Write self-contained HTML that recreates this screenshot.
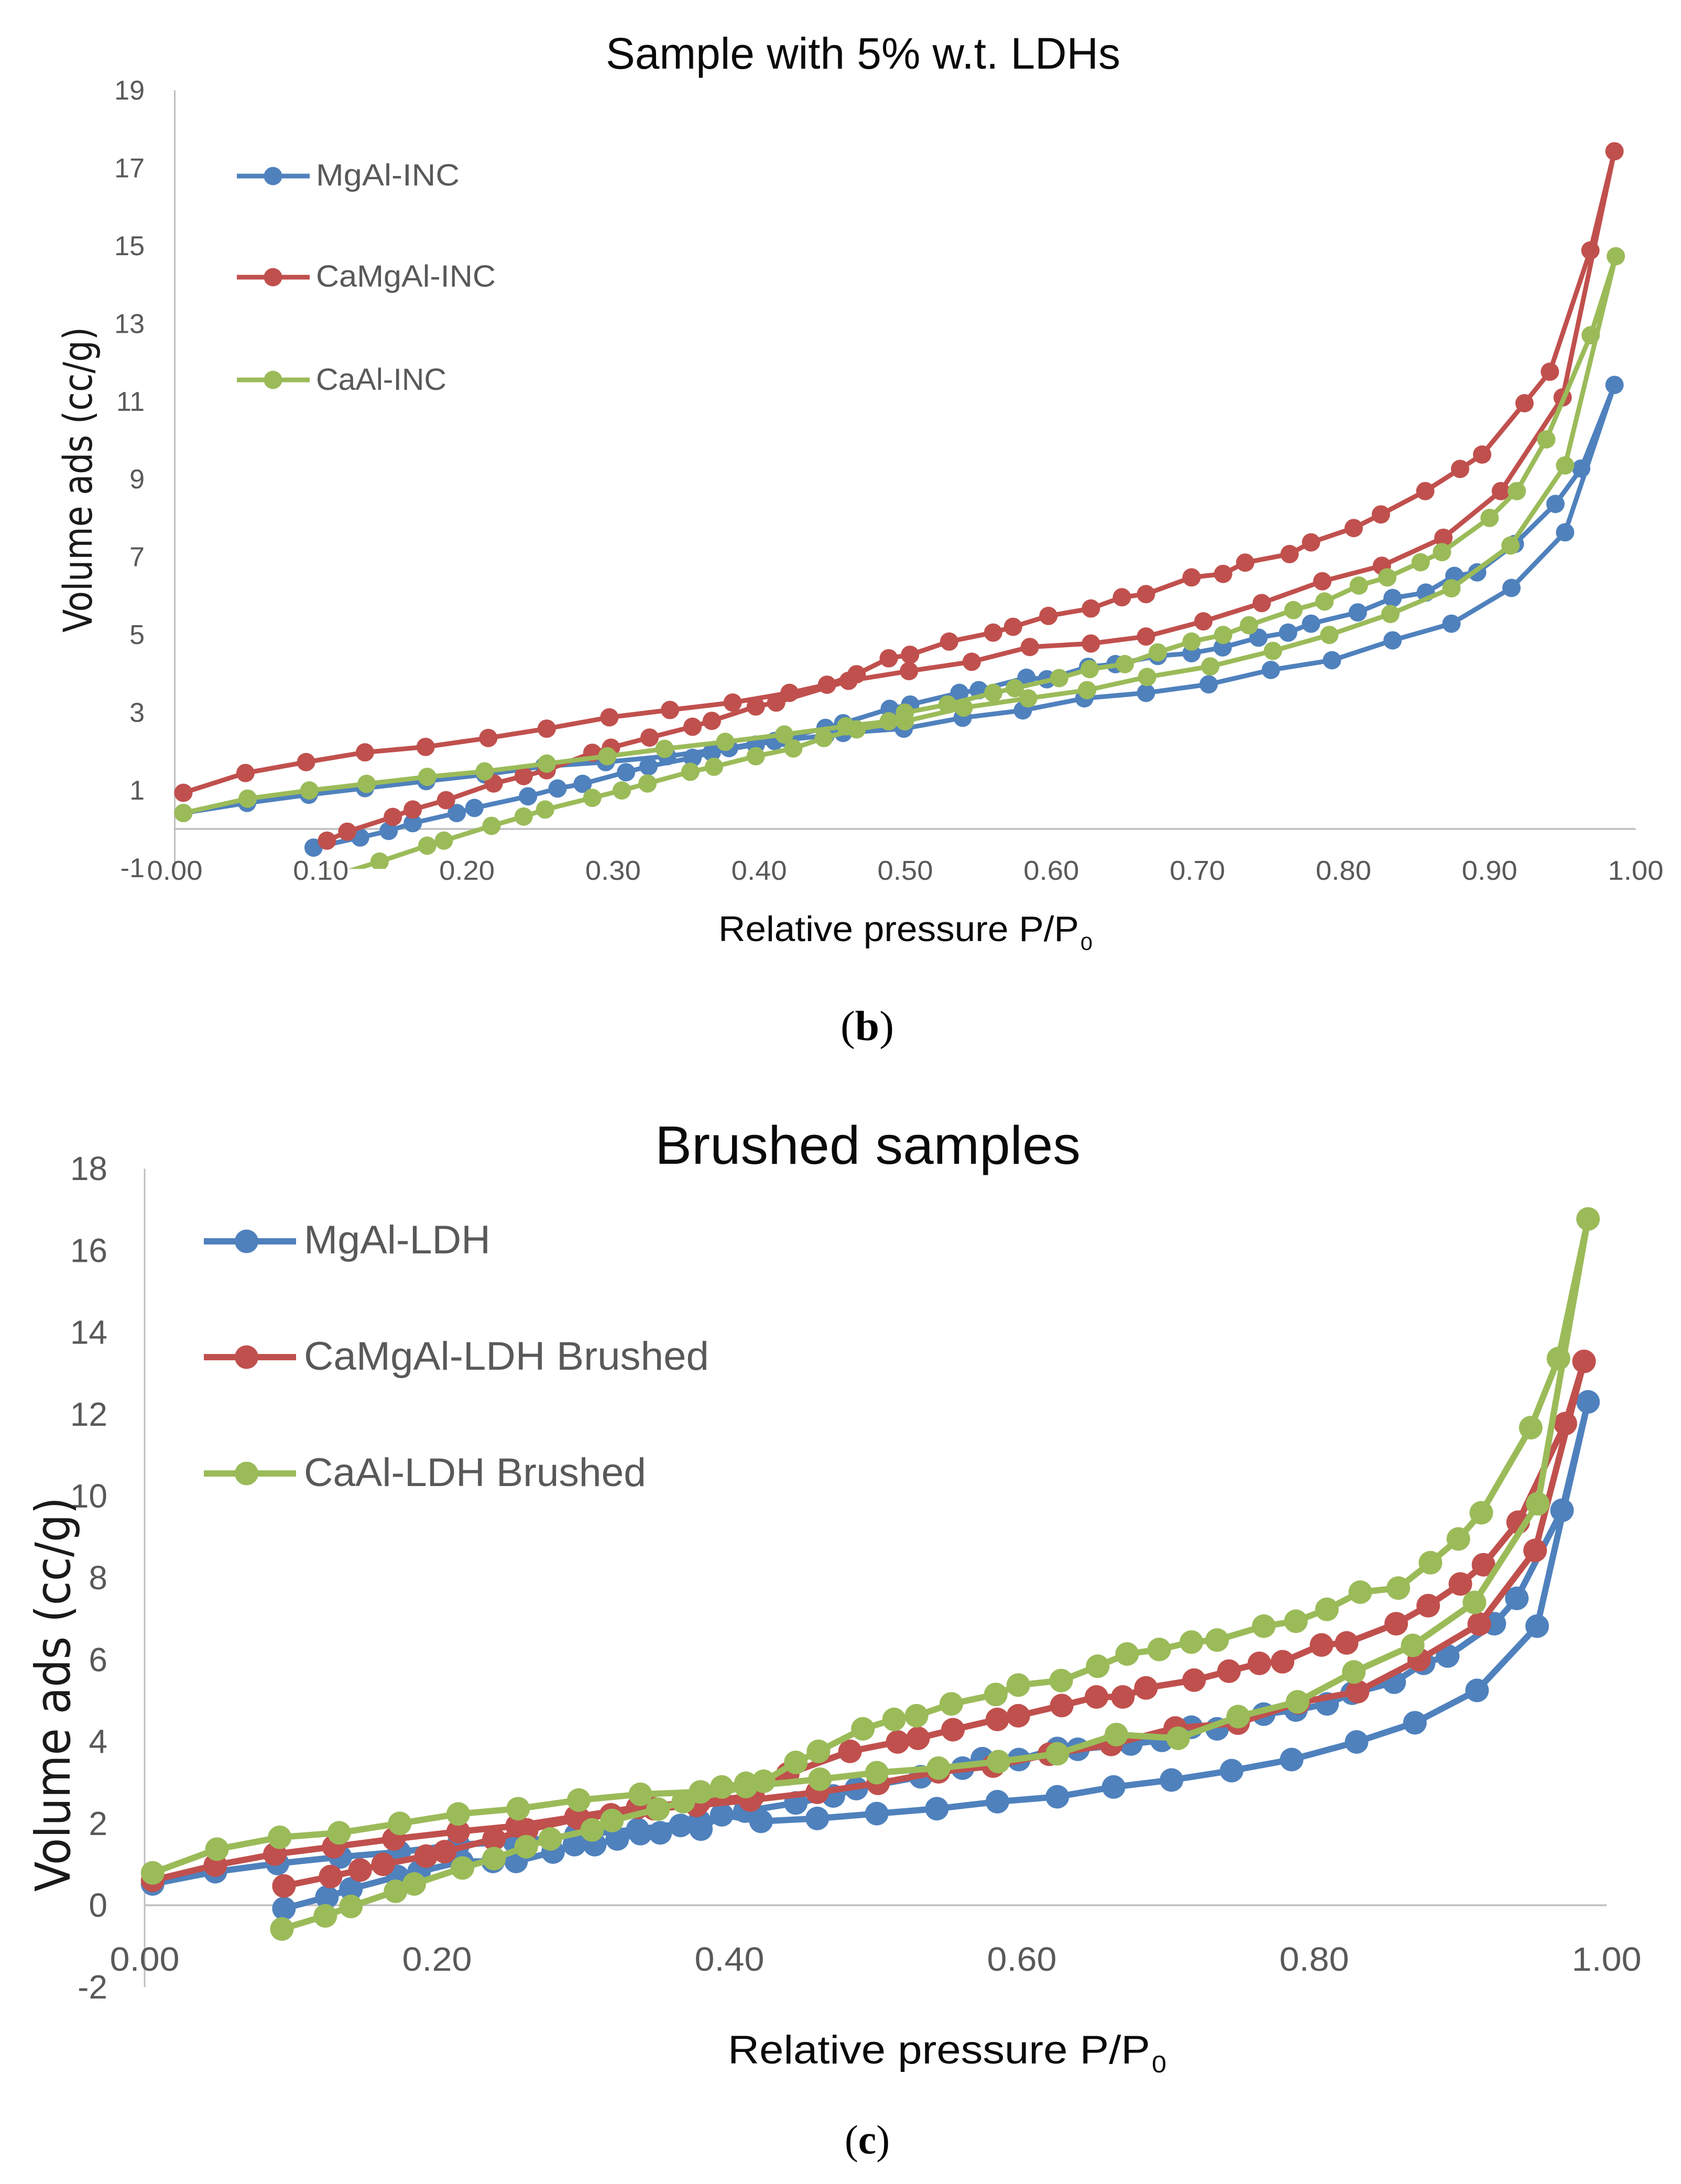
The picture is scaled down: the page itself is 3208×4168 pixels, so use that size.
<!DOCTYPE html>
<html lang="en">
<head>
<meta charset="utf-8">
<title>Adsorption isotherms</title>
<style>
html,body{margin:0;padding:0;background:#fff;}
svg{display:block;}
text{font-family:"Liberation Sans",sans-serif;}
.tick{fill:#595959;}
.leg{fill:#595959;}
.ttl{fill:#0a0a0a;}
.ylab{font-family:"DejaVu Sans",sans-serif;fill:#1a1a1a;}
.cap{font-family:"Liberation Serif",serif;fill:#000;}
</style>
</head>
<body>
<svg id="figure" xmlns="http://www.w3.org/2000/svg" width="3208" height="4168" viewBox="0 0 3208 4168">
  <rect x="0" y="0" width="3208" height="4168" fill="#fff"/>

  <!-- Chart b static text -->
  <text class="ttl" x="1156" y="131" font-size="84" textLength="982" lengthAdjust="spacingAndGlyphs">Sample with 5% w.t. LDHs</text>
  <text class="ylab" transform="translate(175,1207) rotate(-90)" x="0" y="0" font-size="76" textLength="583" lengthAdjust="spacingAndGlyphs">Volume ads (cc/g)</text>
  <text class="ttl" x="1371" y="1796" font-size="68" textLength="688" lengthAdjust="spacingAndGlyphs">Relative pressure P/P</text>
  <text class="ttl" x="2062" y="1813" font-size="36" textLength="23" lengthAdjust="spacingAndGlyphs">0</text>
  <g id="chartB"></g>
  <g>
    <g>
      <line x1="452" y1="336" x2="591" y2="336" stroke="#4F81BD" stroke-width="9"/>
      <circle cx="521" cy="336" r="17.5" fill="#4F81BD"/>
      <text class="leg" x="603" y="354" font-size="58" textLength="274" lengthAdjust="spacingAndGlyphs">MgAl-INC</text>
    </g>
    <g>
      <line x1="452" y1="529" x2="591" y2="529" stroke="#C0504D" stroke-width="9"/>
      <circle cx="521" cy="529" r="17.5" fill="#C0504D"/>
      <text class="leg" x="603" y="547" font-size="58" textLength="343" lengthAdjust="spacingAndGlyphs">CaMgAl-INC</text>
    </g>
    <g>
      <line x1="452" y1="725" x2="591" y2="725" stroke="#9BBB59" stroke-width="9"/>
      <circle cx="521" cy="725" r="17.5" fill="#9BBB59"/>
      <text class="leg" x="603" y="744" font-size="58" textLength="249" lengthAdjust="spacingAndGlyphs">CaAl-INC</text>
    </g>
  </g>
  <text class="cap" x="1604" y="1985" font-size="80" textLength="102" lengthAdjust="spacingAndGlyphs">(<tspan font-weight="bold">b</tspan>)</text>

  <!-- Chart c static text -->
  <text class="ttl" x="1250" y="2221" font-size="103" textLength="812" lengthAdjust="spacingAndGlyphs">Brushed samples</text>
  <text class="ttl" x="1389" y="3938" font-size="76" textLength="806" lengthAdjust="spacingAndGlyphs">Relative pressure P/P</text>
  <text class="ttl" x="2198" y="3955" font-size="46" textLength="28" lengthAdjust="spacingAndGlyphs">0</text>
  <g id="chartC"></g>
  <text class="ylab" transform="translate(133,3610) rotate(-90)" x="0" y="0" font-size="92" textLength="753" lengthAdjust="spacingAndGlyphs">Volume ads (cc/g)</text>
  <g>
    <g>
      <line x1="389" y1="2369" x2="565" y2="2369" stroke="#4F81BD" stroke-width="12"/>
      <circle cx="470.5" cy="2369" r="22.5" fill="#4F81BD"/>
      <text class="leg" x="580" y="2392" font-size="76" textLength="356" lengthAdjust="spacingAndGlyphs">MgAl-LDH</text>
    </g>
    <g>
      <line x1="389" y1="2590" x2="565" y2="2590" stroke="#C0504D" stroke-width="12"/>
      <circle cx="470.5" cy="2590" r="22.5" fill="#C0504D"/>
      <text class="leg" x="580" y="2614" font-size="76" textLength="773" lengthAdjust="spacingAndGlyphs">CaMgAl-LDH Brushed</text>
    </g>
    <g>
      <line x1="389" y1="2812" x2="565" y2="2812" stroke="#9BBB59" stroke-width="12"/>
      <circle cx="470.5" cy="2812" r="22.5" fill="#9BBB59"/>
      <text class="leg" x="580" y="2836" font-size="76" textLength="653" lengthAdjust="spacingAndGlyphs">CaAl-LDH Brushed</text>
    </g>
  </g>
  <text class="cap" x="1612" y="4110" font-size="78" textLength="86" lengthAdjust="spacingAndGlyphs">(<tspan font-weight="bold">c</tspan>)</text>
</svg>

<script>
// ---------- Chart (b) tick labels ----------
const bXTicks = [0, 0.1, 0.2, 0.3, 0.4, 0.5, 0.6, 0.7, 0.8, 0.9, 1];
const bYTicks = [-1, 1, 3, 5, 7, 9, 11, 13, 15, 17, 19];

// ---------- Chart (b) series values ----------
const bMgAlP = [.0059,.0495,.0917,.1302,.1721,.2124,.2528,.295,.337,.3794,.4179,.4454,.4575,.4894,.5034,.5371,.5504,.583,.597,.6252,.6439,.6729,.696,.7173,.7418,.7621,.7778,.8098,.8336,.8563,.8759,.8915,.9173,.9451,.9627,.9855,.9517,.915,.8739,.8336,.7921,.7503,.7077,.6648,.6226,.5805,.5393,.499,.4575,.4454,.4106,.3977,.3676,.3544,.3243,.3089,.2792,.262,.2418,.2051,.193,.1629,.1464,.1269,.095];
const bMgAlV = [.41,.67,.88,1.05,1.23,1.4,1.61,1.72,1.87,2.08,2.34,2.6,2.72,3.09,3.2,3.5,3.57,3.89,3.85,4.17,4.24,4.45,4.52,4.67,4.92,5.05,5.28,5.57,5.94,6.08,6.51,6.6,7.33,8.36,9.27,11.42,7.63,6.2,5.28,4.85,4.34,4.09,3.72,3.5,3.36,3.05,2.86,2.58,2.47,2.4,2.26,2.17,1.97,1.83,1.61,1.46,1.16,1.04,.84,.54,.41,.15,-.05,-.22,-.48];

const bCaMgAlP = [.0059,.0484,.0899,.1302,.1717,.2146,.2546,.2975,.339,.3819,.4208,.4465,.4667,.4887,.5033,.5301,.5602,.5738,.598,.6271,.6483,.6648,.696,.7176,.7327,.7631,.7778,.807,.8256,.856,.8798,.8949,.9239,.9413,.969,.9855,.95,.9077,.8684,.8263,.7855,.744,.7041,.6648,.6271,.5853,.5455,.5026,.4612,.4117,.3977,.3676,.3544,.325,.2986,.2858,.2546,.2388,.2183,.1857,.1629,.1493,.1181,.1042];
const bCaMgAlV = [.93,1.44,1.72,1.97,2.11,2.34,2.58,2.87,3.06,3.25,3.5,3.71,3.98,4.39,4.48,4.82,5.05,5.2,5.48,5.67,5.96,6.04,6.47,6.56,6.85,7.07,7.37,7.74,8.09,8.69,9.26,9.63,10.95,11.76,14.88,17.43,11.1,8.69,7.49,6.77,6.37,5.81,5.34,4.95,4.77,4.68,4.3,4.06,3.81,3.25,3.15,2.78,2.63,2.35,2.09,1.96,1.51,1.36,1.17,.74,.5,.31,-.07,-.3];

const bCaAlP = [.0059,.0499,.0921,.1313,.1728,.2121,.2546,.2961,.3353,.3768,.4172,.4594,.4887,.4997,.529,.5603,.575,.6054,.6263,.6503,.6729,.696,.7176,.7353,.7657,.787,.8105,.83,.8528,.8674,.9,.9186,.9388,.9692,.9864,.9517,.9143,.8739,.8321,.7903,.7517,.7088,.6656,.6245,.5842,.54,.4997,.4667,.4443,.4234,.3977,.3691,.3529,.3236,.306,.2858,.2535,.2388,.2168,.1842,.1728,.1402,.105];
const bCaAlV = [.41,.78,.99,1.16,1.34,1.48,1.68,1.87,2.06,2.24,2.43,2.64,2.77,2.99,3.2,3.5,3.62,3.88,4.11,4.24,4.54,4.82,4.99,5.24,5.63,5.85,6.26,6.47,6.86,7.12,8,8.69,10.02,12.7,14.73,9.35,7.29,6.19,5.53,4.99,4.58,4.18,3.91,3.57,3.36,3.12,2.77,2.56,2.34,2.07,1.87,1.6,1.47,1.17,.99,.8,.5,.32,.08,-.3,-.43,-.84,-1.25];

// ---------- Chart (c) tick labels ----------
const cXTicks = [0, 0.2, 0.4, 0.6, 0.8, 1];
const cYTicks = [-2, 0, 2, 4, 6, 8, 10, 12, 14, 16, 18];

// ---------- Chart (c) series values ----------
const cMgAlP = [.0055,.0484,.0909,.1338,.1741,.2145,.253,.2951,.3373,.3795,.4106,.4454,.4711,.4868,.5309,.5595,.573,.598,.6243,.6383,.6746,.6958,.716,.7336,.7655,.7875,.8088,.826,.8547,.8748,.8913,.9232,.9386,.9695,.9873,.9525,.9114,.8689,.829,.7846,.7435,.7024,.6628,.6243,.5833,.5419,.5008,.4601,.4216,.3948,.3805,.3666,.3527,.3391,.3233,.3079,.294,.2794,.2541,.2383,.217,.1877,.173,.1411,.1247,.0953];
const cMgAlV = [.52,.82,1.02,1.18,1.3,1.48,1.55,1.72,1.85,2.05,2.3,2.5,2.67,2.85,3.14,3.35,3.58,3.56,3.83,3.81,3.94,4.03,4.35,4.31,4.67,4.77,4.92,5.18,5.45,5.91,6.09,6.88,7.5,9.65,12.3,6.82,5.25,4.46,3.99,3.56,3.29,3.06,2.89,2.65,2.53,2.36,2.24,2.12,2.05,2.21,1.86,1.95,1.77,1.75,1.62,1.48,1.48,1.3,1.07,1.07,1.07,.82,.7,.4,.2,-.08];

const cCaMgAlP = [.0055,.0484,.0891,.1294,.1705,.2145,.2548,.2951,.3373,.3795,.4161,.4399,.4825,.5151,.529,.5529,.5833,.5976,.6273,.6511,.6691,.6849,.7178,.7417,.7625,.7783,.805,.8222,.8561,.878,.9,.9158,.9395,.9718,.9846,.9511,.9129,.8718,.8297,.7893,.7479,.705,.6611,.6188,.5804,.543,.5017,.4601,.4143,.3776,.3483,.319,.297,.2614,.239,.2053,.1925,.1631,.1474,.1272,.0953];
const cCaMgAlV = [.61,.98,1.25,1.43,1.62,1.8,1.94,2.16,2.39,2.53,2.67,3.21,3.76,3.99,4.08,4.29,4.54,4.63,4.88,5.09,5.09,5.31,5.5,5.72,5.91,5.95,6.36,6.41,6.88,7.32,7.85,8.32,9.36,11.77,13.29,8.67,6.87,6,5.22,4.95,4.45,4.33,3.93,3.69,3.4,3.26,2.98,2.76,2.57,2.44,2.36,2.21,2.12,1.84,1.62,1.31,1.2,1,.86,.7,.47];

const cCaAlP = [.0055,.0495,.0924,.1331,.1745,.2145,.2555,.297,.3391,.3802,.3948,.4113,.4234,.4454,.4609,.4913,.5126,.528,.5518,.5822,.5976,.6269,.6519,.672,.694,.716,.7336,.7655,.7875,.8087,.8315,.8575,.8795,.8986,.9143,.9481,.9671,.9873,.9529,.9096,.8674,.8271,.7886,.748,.7069,.6647,.6243,.584,.543,.5008,.4619,.4113,.3685,.3512,.3197,.3061,.2775,.261,.239,.2174,.1844,.1716,.1411,.1236,.0939];
const cCaAlV = [.79,1.37,1.66,1.77,2,2.23,2.36,2.57,2.71,2.77,2.89,2.98,3.03,3.49,3.76,4.31,4.54,4.63,4.92,5.15,5.38,5.49,5.84,6.14,6.25,6.43,6.48,6.82,6.94,7.23,7.65,7.75,8.37,8.95,9.59,11.67,13.36,16.77,9.81,7.4,6.35,5.7,4.97,4.61,4.08,4.17,3.7,3.51,3.35,3.24,3.08,2.9,2.53,2.35,2.07,1.84,1.62,1.43,1.14,.91,.52,.34,-.03,-.26,-.58];

const NS = 'http://www.w3.org/2000/svg';
const BLUE = '#4F81BD', RED = '#C0504D', GREEN = '#9BBB59';

function make(tag, parent) {
  const el = document.createElementNS(NS, tag);
  parent.appendChild(el);
  return el;
}

function drawChart(rootId, prefix, o, seriesList, xTicks, yTicks) {
  const root = document.getElementById(rootId);
  const xAt = p => o.x0 + p * o.xUnit;
  const yAt = v => o.y0 - v * o.yUnit;

  // clip region ends at the axis minimum
  const defs = make('defs', root);
  const clip = make('clipPath', defs);
  clip.setAttribute('id', prefix + '-clip');
  const cr = make('rect', clip);
  cr.setAttribute('x', 0);
  cr.setAttribute('y', 0);
  cr.setAttribute('width', 3208);
  cr.setAttribute('height', yAt(o.yMin) + 2);

  // axes
  const yAxis = make('line', root);
  
  
  yAxis.setAttribute('x1', xAt(0));
  yAxis.setAttribute('x2', xAt(0));
  yAxis.setAttribute('y1', yAt(o.yMax));
  yAxis.setAttribute('y2', yAt(o.yMin));
  yAxis.setAttribute('stroke', '#BFBFBF');
  yAxis.setAttribute('stroke-width', 3);

  const xAxis = make('line', root);
  
  
  xAxis.setAttribute('x1', xAt(0));
  xAxis.setAttribute('x2', xAt(1));
  xAxis.setAttribute('y1', yAt(0));
  xAxis.setAttribute('y2', yAt(0));
  xAxis.setAttribute('stroke', '#BFBFBF');
  xAxis.setAttribute('stroke-width', 3.5);

  // y tick labels
  yTicks.forEach(v => {
    const t = make('text', root);
    
    
    t.setAttribute('class', 'tick');
    t.setAttribute('x', o.yLabelX);
    t.setAttribute('y', yAt(v) + o.yLabelDy);
    t.setAttribute('text-anchor', 'end');
    t.setAttribute('font-size', o.tickSize);
    t.textContent = String(v);
  });

  // x tick labels
  xTicks.forEach(p => {
    const t = make('text', root);
    
    
    t.setAttribute('class', 'tick');
    t.setAttribute('x', xAt(p) - o.xLabelW / 2);
    t.setAttribute('y', o.xLabelY);
    t.setAttribute('font-size', o.tickSize);
    t.setAttribute('textLength', o.xLabelW);
    t.setAttribute('lengthAdjust', 'spacingAndGlyphs');
    t.textContent = p.toFixed(2);
  });

  // series
  const plot = make('g', root);
  
  
  plot.setAttribute('clip-path', 'url(#' + prefix + '-clip)');

  seriesList.forEach(s => {
    const g = make('g', plot);
    
    

    const pts = s.p.map((p, i) => xAt(p).toFixed(1) + ',' + yAt(s.v[i]).toFixed(1)).join(' ');
    const line = make('polyline', g);
    
    
    line.setAttribute('points', pts);
    line.setAttribute('fill', 'none');
    line.setAttribute('stroke', s.color);
    line.setAttribute('stroke-width', o.lineW);
    line.setAttribute('stroke-linejoin', 'round');

    s.p.forEach((p, i) => {
      const c = make('circle', g);
      
      
      c.setAttribute('cx', xAt(p).toFixed(1));
      c.setAttribute('cy', yAt(s.v[i]).toFixed(1));
      c.setAttribute('r', o.markerR);
      c.setAttribute('fill', s.color);
    });
  });
}

drawChart('chartB', 'chart-b',
  {x0: 333.5, xUnit: 2788, y0: 1582, yUnit: 74.2, yMin: -1, yMax: 19,
   yLabelX: 276, yLabelDy: 18, xLabelY: 1679, xLabelW: 106, tickSize: 52,
   lineW: 9, markerR: 17.5},
  [{p: bMgAlP, v: bMgAlV, color: BLUE},
   {p: bCaMgAlP, v: bCaMgAlV, color: RED},
   {p: bCaAlP, v: bCaAlV, color: GREEN}],
  bXTicks, bYTicks);

drawChart('chartC', 'chart-c',
  {x0: 276, xUnit: 2790, y0: 3636, yUnit: 78.1, yMin: -2, yMax: 18,
   yLabelX: 205, yLabelDy: 22, xLabelY: 3761, xLabelW: 133, tickSize: 64,
   lineW: 12, markerR: 22.5},
  [{p: cMgAlP, v: cMgAlV, color: BLUE},
   {p: cCaMgAlP, v: cCaMgAlV, color: RED},
   {p: cCaAlP, v: cCaAlV, color: GREEN}],
  cXTicks, cYTicks);
</script>
</body>
</html>
